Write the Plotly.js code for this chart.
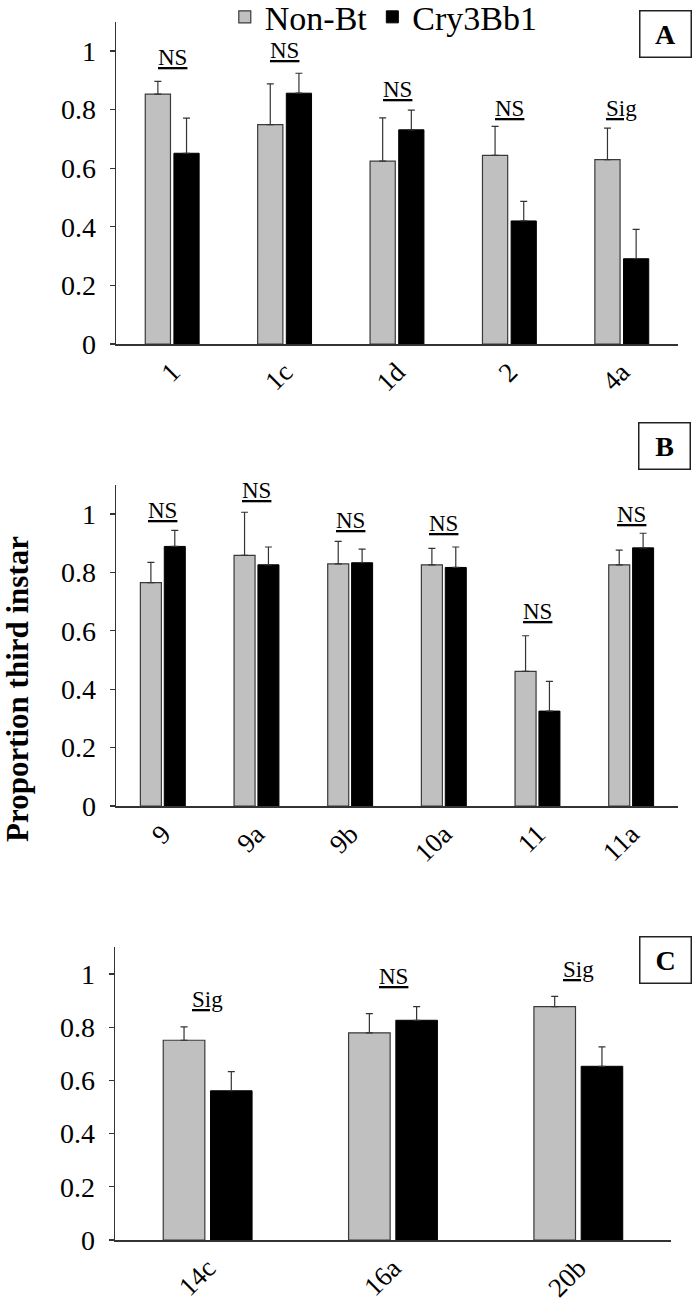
<!DOCTYPE html>
<html>
<head>
<meta charset="utf-8">
<script src="https://cdn.plot.ly/plotly-3.0.1.min.js"></script>
<style>html,body{margin:0;padding:0;background:#fff;}#chart{width:694px;height:1305px;}</style>
</head>
<body>
<div id="chart"></div>
<script>
// ---- Data ----
const seriesNames = ['Non-Bt', 'Cry3Bb1'];

const catsA = ['1', '1c', '1d', '2', '4a'];
const nonBtA = [0.853, 0.749, 0.624, 0.644, 0.629];
const nonBtErrA = [0.043, 0.139, 0.148, 0.099, 0.108];
const cryA = [0.651, 0.856, 0.731, 0.420, 0.291];
const cryErrA = [0.120, 0.068, 0.067, 0.067, 0.100];
const sigA = ['NS', 'NS', 'NS', 'NS', 'Sig'];
const sigPosA = [0.978, 1.001, 0.869, 0.805, 0.805];

const catsB = ['9', '9a', '9b', '10a', '11', '11a'];
const nonBtB = [0.765, 0.858, 0.829, 0.826, 0.461, 0.826];
const nonBtErrB = [0.069, 0.148, 0.077, 0.056, 0.122, 0.050];
const cryB = [0.889, 0.826, 0.833, 0.817, 0.325, 0.884];
const cryErrB = [0.055, 0.061, 0.047, 0.070, 0.102, 0.050];
const sigB = ['NS', 'NS', 'NS', 'NS', 'NS', 'NS'];
const sigPosB = [1.011, 1.079, 0.979, 0.968, 0.666, 1.000];

const catsC = ['14c', '16a', '20b'];
const nonBtC = [0.751, 0.779, 0.877];
const nonBtErrC = [0.050, 0.072, 0.039];
const cryC = [0.561, 0.826, 0.653];
const cryErrC = [0.072, 0.051, 0.073];
const sigC = ['Sig', 'NS', 'Sig'];
const sigPosC = [0.906, 0.991, 1.016];

const panelLetters = ['A', 'B', 'C'];
const yTitle = 'Proportion third instar';
const yTicks = [0, 0.2, 0.4, 0.6, 0.8, 1];

// ---- Build ----
const W = 694, H = 1305;
const FONT = 'Liberation Serif';
const grayFill = '#c0c0c0';
const blackFill = '#000000';

const panels = [
  {cats: catsA, nb: nonBtA, nbe: nonBtErrA, cr: cryA, cre: cryErrA, sig: sigA, sigY: sigPosA,
   xpx: [116, 678], ybot: 344, unit: 293, box: [665, 33.5]},
  {cats: catsB, nb: nonBtB, nbe: nonBtErrB, cr: cryB, cre: cryErrB, sig: sigB, sigY: sigPosB,
   xpx: [116, 678], ybot: 806, unit: 292, box: [664, 445.5]},
  {cats: catsC, nb: nonBtC, nbe: nonBtErrC, cr: cryC, cre: cryErrC, sig: sigC, sigY: sigPosC,
   xpx: [115, 671], ybot: 1240, unit: 266, box: [665.5, 960]}
];

const data = [];
const layout = {
  width: W, height: H,
  margin: {l: 0, r: 0, t: 0, b: 0, pad: 0, autoexpand: false},
  paper_bgcolor: '#fff', plot_bgcolor: '#fff',
  barmode: 'group', bargap: 0.49, bargroupgap: 0.12,
  font: {family: FONT, color: '#000'},
  showlegend: true,
  legend: {orientation: 'h', x: 0.553, xanchor: 'center', y: 1.009, yanchor: 'top',
           font: {family: FONT, size: 34, color: '#000'}, bgcolor: 'rgba(0,0,0,0)',
           itemclick: false, itemdoubleclick: false, tracegroupgap: 0},
  annotations: [],
  shapes: []
};

const yMax = 1.1;
panels.forEach((p, i) => {
  const n = i === 0 ? '' : String(i + 1);
  const xa = 'x' + n, ya = 'y' + n;
  const errStyle = {color: '#333', thickness: 1.2, width: 3.5};
  data.push({
    type: 'bar', name: seriesNames[0], x: p.cats, y: p.nb, xaxis: xa, yaxis: ya,
    marker: {color: grayFill, line: {color: '#3a3a3a', width: 1.2}},
    error_y: Object.assign({type: 'data', symmetric: false, array: p.nbe, arrayminus: p.nbe.map(() => 0)}, errStyle),
    legendgroup: 'nb', showlegend: i === 0, hoverinfo: 'skip'
  });
  data.push({
    type: 'bar', name: seriesNames[1], x: p.cats, y: p.cr, xaxis: xa, yaxis: ya,
    marker: {color: blackFill, line: {color: '#000', width: 1}},
    error_y: Object.assign({type: 'data', symmetric: false, array: p.cre, arrayminus: p.cre.map(() => 0)}, errStyle),
    legendgroup: 'cr', showlegend: i === 0, hoverinfo: 'skip'
  });
  const ytop = p.ybot - yMax * p.unit;
  layout['xaxis' + n] = {
    domain: [p.xpx[0] / W, p.xpx[1] / W], anchor: ya,
    type: 'category', categoryorder: 'array', categoryarray: p.cats,
    range: [-0.5, p.cats.length - 0.5],
    showline: true, linecolor: '#333', linewidth: 1.5,
    ticks: '', showgrid: false, zeroline: false, tickangle: -45,
    ticklabelstandoff: 0, automargin: false,
    tickfont: {family: FONT, size: 27, color: '#000'}, fixedrange: true
  };
  layout['yaxis' + n] = {
    domain: [1 - p.ybot / H, 1 - ytop / H], anchor: xa,
    range: [0, yMax], tickvals: yTicks, ticktext: yTicks.map(v => String(v)),
    showline: true, linecolor: '#333', linewidth: 1.5,
    ticks: 'outside', ticklen: 5, tickwidth: 1.2, tickcolor: '#333',
    ticklabelstandoff: 8, automargin: false,
    showgrid: false, zeroline: false,
    tickfont: {family: FONT, size: 28, color: '#000'}, fixedrange: true
  };
  p.cats.forEach((c, k) => {
    layout.annotations.push({
      xref: xa, yref: ya, x: k, y: p.sigY[k], text: '<u>' + p.sig[k] + '</u>',
      showarrow: false, xanchor: 'center', yanchor: 'middle',
      font: {family: FONT, size: 23, color: '#000'}
    });
  });
  layout.annotations.push({
    xref: 'paper', yref: 'paper', x: p.box[0] / W, y: 1 - p.box[1] / H,
    xanchor: 'center', yanchor: 'middle', text: '<b>' + panelLetters[i] + '</b>',
    showarrow: false, width: 50, height: 45, borderpad: 0,
    bordercolor: '#222', borderwidth: 1.5, bgcolor: '#fff',
    font: {family: FONT, size: 28, color: '#000'}
  });
});

layout.annotations.push({
  xref: 'paper', yref: 'paper', x: 17 / W, y: 1 - 689 / H,
  xanchor: 'center', yanchor: 'middle', textangle: -90,
  text: '<b>' + yTitle + '</b>', showarrow: false,
  font: {family: FONT, size: 31, color: '#000'}
});

Plotly.newPlot('chart', data, layout, {displayModeBar: false, staticPlot: true});
</script>
</body>
</html>
